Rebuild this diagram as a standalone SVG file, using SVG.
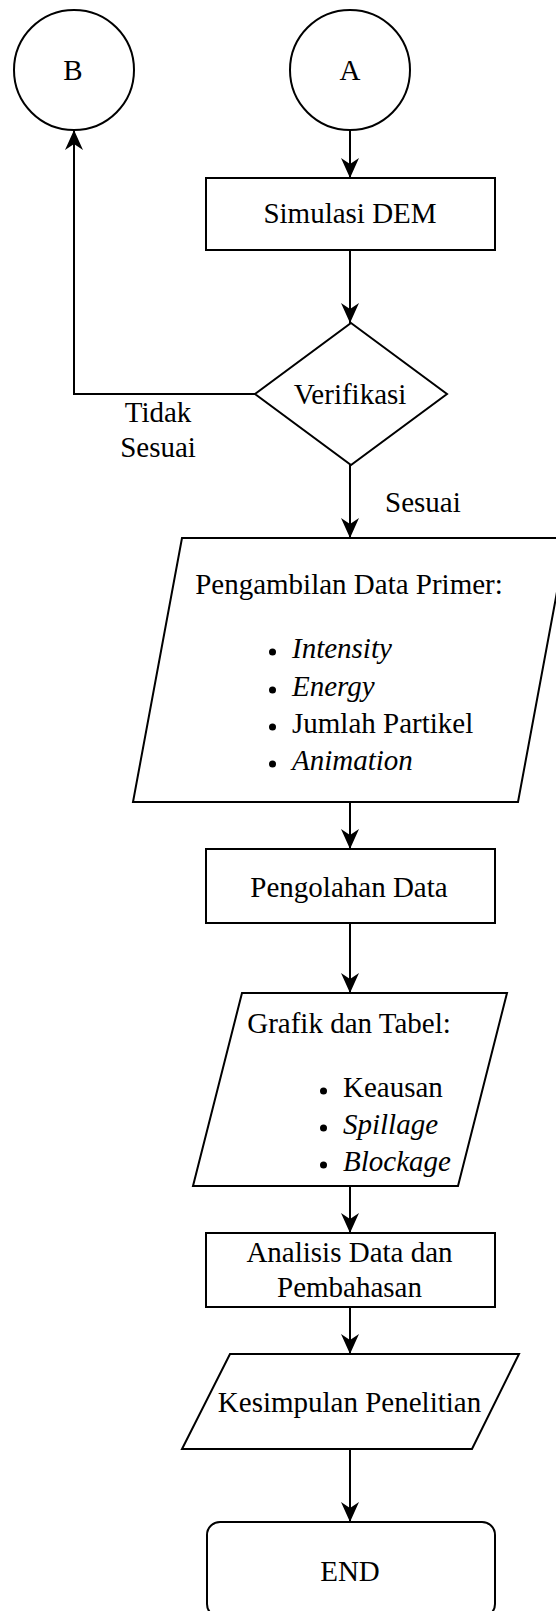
<svg xmlns="http://www.w3.org/2000/svg" width="556" height="1611" viewBox="0 0 556 1611">
  <style>
    .shape { fill: #ffffff; stroke: #000000; stroke-width: 2; }
    .edge { fill: none; stroke: #000000; stroke-width: 2; }
    text { font-family: "Liberation Serif", "Times New Roman", Tinos, "DejaVu Serif", "Noto Serif", serif; font-size: 29px; fill: #000000; }
    .mid { text-anchor: middle; }
    .it { font-style: italic; }
    .dot { fill: #000000; }
  </style>
  <defs>
    <marker id="arrow" viewBox="0 0 20 18" refX="20" refY="9" markerWidth="20" markerHeight="18" markerUnits="userSpaceOnUse" orient="auto">
      <path d="M0,0 L20,9 L0,18 L6,9 Z" fill="#000000"/>
    </marker>
  </defs>

  <rect width="556" height="1611" fill="#ffffff"/>

  <g font-family="Liberation Serif, Times New Roman, serif" font-size="29">
  <!-- connectors -->
  <g id="connectors">
    <path class="edge" d="M350,130 V178" marker-end="url(#arrow)"/>
    <path class="edge" d="M350,250 V323" marker-end="url(#arrow)"/>
    <path class="edge" d="M255,394 H74 V130" marker-end="url(#arrow)"/>
    <path class="edge" d="M350,465 V538" marker-end="url(#arrow)"/>
    <path class="edge" d="M350,802 V849" marker-end="url(#arrow)"/>
    <path class="edge" d="M350,923 V993" marker-end="url(#arrow)"/>
    <path class="edge" d="M350,1186 V1233" marker-end="url(#arrow)"/>
    <path class="edge" d="M350,1307 V1354" marker-end="url(#arrow)"/>
    <path class="edge" d="M350,1449 V1522" marker-end="url(#arrow)"/>
    <text class="mid" x="158" y="422">Tidak</text>
    <text class="mid" x="158" y="457">Sesuai</text>
    <text x="385" y="512">Sesuai</text>
  </g>

  <!-- connector B -->
  <g id="node-b">
    <circle class="shape" cx="74" cy="70" r="60"/>
    <text class="mid" x="73" y="80">B</text>
  </g>

  <!-- connector A -->
  <g id="node-a">
    <circle class="shape" cx="350" cy="70" r="60"/>
    <text class="mid" x="350" y="80">A</text>
  </g>

  <g id="node-simulasi">
    <rect class="shape" x="206" y="178" width="289" height="72"/>
    <text class="mid" x="350" y="223">Simulasi DEM</text>
  </g>

  <g id="node-verifikasi">
    <polygon class="shape" points="351,323 447,394 351,465 255,394"/>
    <text class="mid" x="350" y="404">Verifikasi</text>
  </g>

  <g id="node-data-primer">
    <polygon class="shape" points="182,538 567,538 518,802 133,802"/>
    <text class="mid" x="349" y="594">Pengambilan Data Primer:</text>
    <circle class="dot" cx="272.5" cy="652" r="3.5"/>
    <text class="it" x="292" y="658">Intensity</text>
    <circle class="dot" cx="272.5" cy="690" r="3.5"/>
    <text class="it" x="292" y="696">Energy</text>
    <circle class="dot" cx="272.5" cy="727" r="3.5"/>
    <text x="292" y="733">Jumlah Partikel</text>
    <circle class="dot" cx="272.5" cy="764" r="3.5"/>
    <text class="it" x="292" y="770">Animation</text>
  </g>

  <g id="node-pengolahan">
    <rect class="shape" x="206" y="849" width="289" height="74"/>
    <text class="mid" x="349" y="897">Pengolahan Data</text>
  </g>

  <g id="node-grafik">
    <polygon class="shape" points="242,993 507,993 458,1186 193,1186"/>
    <text class="mid" x="349" y="1033">Grafik dan Tabel:</text>
    <circle class="dot" cx="323.5" cy="1091" r="3.5"/>
    <text x="343" y="1097">Keausan</text>
    <circle class="dot" cx="323.5" cy="1128" r="3.5"/>
    <text class="it" x="343" y="1134">Spillage</text>
    <circle class="dot" cx="323.5" cy="1165" r="3.5"/>
    <text class="it" x="343" y="1171">Blockage</text>
  </g>

  <g id="node-analisis">
    <rect class="shape" x="206" y="1233" width="289" height="74"/>
    <text class="mid" x="349.5" y="1262">Analisis Data dan</text>
    <text class="mid" x="349.5" y="1297">Pembahasan</text>
  </g>

  <g id="node-kesimpulan">
    <polygon class="shape" points="230,1354 519,1354 472,1449 182,1449"/>
    <text class="mid" x="349.5" y="1412">Kesimpulan Penelitian</text>
  </g>

  <g id="node-end">
    <rect class="shape" x="207" y="1522" width="288" height="95" rx="13" ry="13"/>
    <text class="mid" x="350" y="1581">END</text>
  </g>
  </g>
</svg>
